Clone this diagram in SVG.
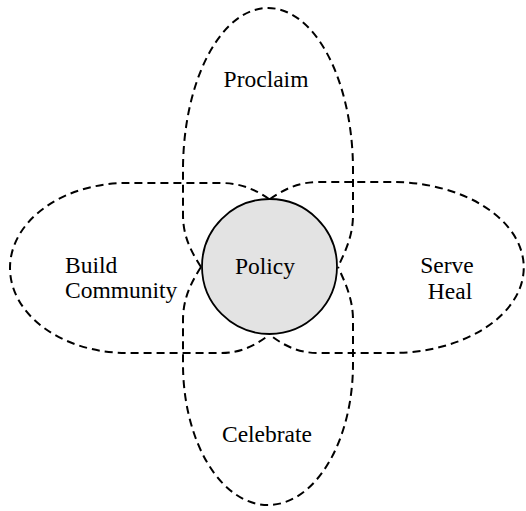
<svg xmlns="http://www.w3.org/2000/svg" width="526" height="511" viewBox="0 0 526 511">
  <style>
    .petal { fill: none; stroke: #000; stroke-width: 2; stroke-dasharray: 8 5; }
    .hub { fill: #e3e3e3; stroke: #000; stroke-width: 1.8; }
    .label { font-family: "Liberation Serif", "Times New Roman", serif; font-size: 23.5px; fill: #000; }
    .mid { text-anchor: middle; }
  </style>
  <rect width="526" height="511" fill="#fff"/>

  <!-- four dashed petals around the hub -->
  <g id="petal-proclaim">
    <path class="petal" d="M 201,267 C 190,250 183,235 183,215 L 183,170 A 85 162 0 0 1 353,170 L 353,215 C 353,235 346,250 338,267"/>
    <text class="label mid" x="266" y="87">Proclaim</text>
  </g>
  <g id="petal-celebrate">
    <path class="petal" d="M 201,267 C 190,284 183,300 183,320 L 183,364 A 85 141 0 0 0 353,364 L 353,320 C 353,300 346,284 338,267"/>
    <text class="label mid" x="267" y="442">Celebrate</text>
  </g>
  <g id="petal-build">
    <path class="petal" d="M 269,199 C 256,190 241,183 221,183 L 127,183 A 117 85 0 0 0 127,353 L 221,353 C 241,353 256,345 269,335"/>
    <text class="label" x="65" y="273">Build</text>
    <text class="label" x="65" y="298">Community</text>
  </g>
  <g id="petal-serve">
    <path class="petal" d="M 270,199 C 283,190 298,182 318,182 L 392,182 A 131 85 0 0 1 392,353 L 318,353 C 298,353 283,345 270,335"/>
    <text class="label mid" x="447" y="273">Serve</text>
    <text class="label mid" x="450" y="299">Heal</text>
  </g>

  <!-- central hub -->
  <g id="node-policy">
    <circle class="hub" cx="269.5" cy="266.5" r="67.5"/>
    <text class="label mid" x="265" y="274">Policy</text>
  </g>

  <g id="connectors"/>
</svg>
